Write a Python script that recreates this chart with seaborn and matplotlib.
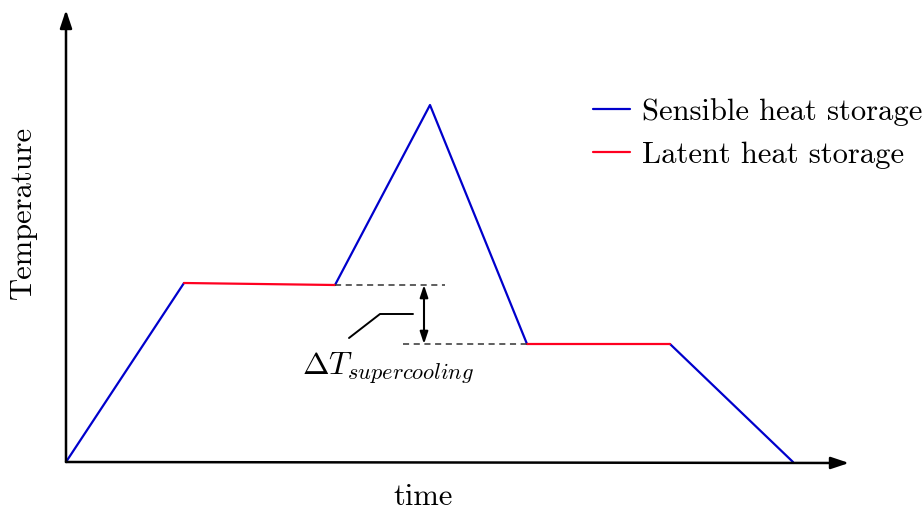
import numpy as np
import pandas as pd
import matplotlib
matplotlib.use('Agg')
import matplotlib.pyplot as plt
import seaborn as sns

# curve vertices (time, temperature)
seg_id = [0, 0, 1, 1, 2, 2, 2, 3, 3, 4, 4]
seg_kind = ['Sensible heat storage', 'Sensible heat storage',
            'Latent heat storage', 'Latent heat storage',
            'Sensible heat storage', 'Sensible heat storage', 'Sensible heat storage',
            'Latent heat storage', 'Latent heat storage',
            'Sensible heat storage', 'Sensible heat storage']
seg_time = [0, 118, 118, 269, 269, 364, 461, 461, 604, 604, 727]
seg_temp = [0, 179, 179, 177, 177, 357, 118, 118, 118, 118, 0]

# supercooling marker
dash_hi = (269, 379, 177)   # x0, x1, y
dash_lo = (337, 461, 118)
arrow_x = 358
leader_x = [283, 314, 347]
leader_y = [124, 148, 148]

sns.set_theme(style='white')
plt.rcParams['font.family'] = 'serif'
plt.rcParams['font.serif'] = ['cmr10']
plt.rcParams['mathtext.fontset'] = 'cm'
plt.rcParams['axes.unicode_minus'] = False
plt.rcParams['text.color'] = 'black'

df = pd.DataFrame({'seg': seg_id, 'kind': seg_kind, 'time': seg_time, 'temp': seg_temp})

fig = plt.figure(figsize=(9.24, 5.09), dpi=100)
ax = fig.add_axes([0, 0, 1, 1])
ax.set_xlim(-66, 924 - 66)
ax.set_ylim(462 - 509, 462)
ax.axis('off')

palette = {'Sensible heat storage': '#0000cc', 'Latent heat storage': '#ff0020'}
sns.lineplot(data=df, x='time', y='temp', hue='kind', units='seg', estimator=None,
             sort=False, palette=palette, lw=1.6, ax=ax, legend=True)

# axes with arrows
akw = dict(arrowstyle='-|>,head_length=0.9,head_width=0.3', color='black', lw=1.8,
           shrinkA=0, shrinkB=0)
ax.annotate('', xy=(783, -1), xytext=(0, 0), arrowprops=akw)
ax.annotate('', xy=(0, 452), xytext=(0, 0), arrowprops=akw)

# dashed guides
ax.plot([dash_hi[0], dash_hi[1]], [dash_hi[2], dash_hi[2]], ls=(0, (4, 3)), color='#333333', lw=1.1)
ax.plot([dash_lo[0], dash_lo[1]], [dash_lo[2], dash_lo[2]], ls=(0, (4, 3)), color='#333333', lw=1.1)
ax.annotate('', xy=(arrow_x, dash_hi[2]), xytext=(arrow_x, dash_lo[2]),
            arrowprops=dict(arrowstyle='<|-|>,head_length=0.6,head_width=0.2', color='black',
                            lw=1.5, shrinkA=0, shrinkB=0))
ax.plot(leader_x, leader_y, color='black', lw=1.4)
ax.text(322, 94, r'$\Delta T_{supercooling}$', fontsize=23, ha='center', va='center')

ax.text(357, -35, 'time', fontsize=22, ha='center', va='center')
ax.text(-43, 250, 'Temperature', fontsize=22, ha='center', va='center', rotation=90)

leg = ax.legend(loc='upper left', bbox_to_anchor=(0.619, 0.849), frameon=False,
                fontsize=22, handlelength=1.2, handletextpad=0.4, labelspacing=0.5,
                borderpad=0.2)
for line in leg.get_lines():
    line.set_linewidth(1.6)

fig.savefig('out.png', dpi=100)
